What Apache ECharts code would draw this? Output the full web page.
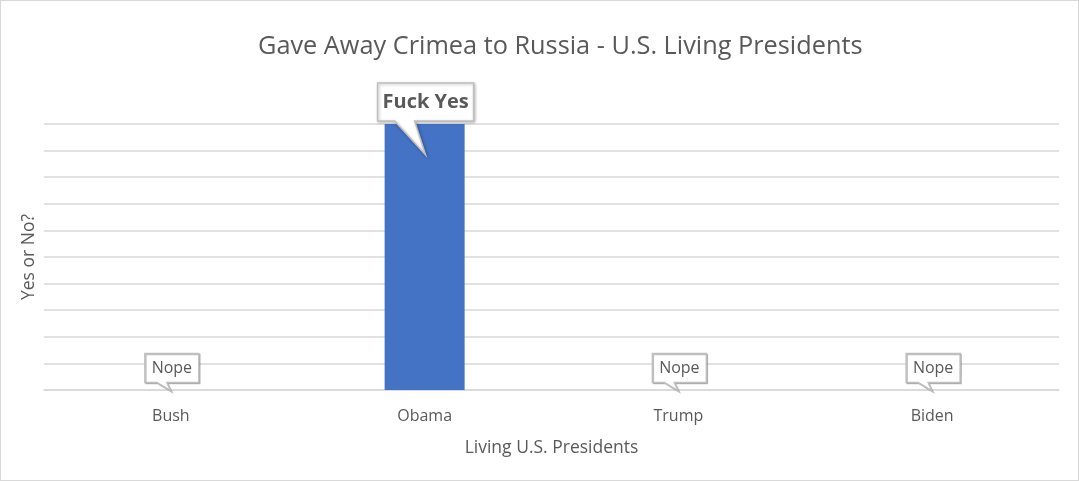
<!DOCTYPE html>
<html>
<head>
    <meta charset="UTF-8">
    <title>Gave Away Crimea to Russia</title>
    <script src="https://cdn.jsdelivr.net/npm/echarts@6/dist/echarts.min.js"></script>
    <style>
        html, body { margin: 0; padding: 0; background: #fff; }
        #main { width: 1079px; height: 481px; box-sizing: border-box; border: 1px solid #d9d9d9; }
    </style>
</head>
<body>
<div id="main"></div>
<script type="text/javascript">
    // data
    var presidents = ['Bush', 'Obama', 'Trump', 'Biden'];
    var gaveAway = [0, 10, 0, 0];
    var answers = ['Nope', 'Fuck Yes', 'Nope', 'Nope'];

    var textColor = '#595959';
    var font = '"Open Sans", sans-serif';

    var chartDom = document.getElementById('main');
    var myChart = echarts.init(chartDom);

    // callout labels, anchored to the bar top through the axis scales
    function renderCallout(params, api) {
        var idx = api.value(0);
        var val = api.value(1);
        var txt = answers[params.dataIndex];
        var p = api.coord([idx, val]);
        var big = val > 0;
        var w, h, cx, cy, tip, p1, p2, fs, fw;
        if (big) {
            w = 96; h = 38; cx = p[0] + 1; cy = p[1] - 22;
            p1 = p[0] - 30; p2 = p[0] - 10;
            tip = [p[0] + 1, p[1] + 31];
            fs = 20; fw = 'bold';
        } else {
            w = 54; h = 29; cx = p[0] + 1; cy = p[1] - 22;
            p1 = p[0] - 14; p2 = p[0] - 4;
            tip = [p[0], p[1] + 1];
            fs = 16; fw = 'normal';
        }
        var l = cx - w / 2, r = cx + w / 2, t = cy - h / 2, b = cy + h / 2;
        return {
            type: 'group',
            children: [{
                type: 'polygon',
                shape: { points: [[l, t], [r, t], [r, b], [p2, b], tip, [p1, b], [l, b]] },
                style: {
                    fill: '#fff', stroke: '#bfbfbf', lineWidth: 1.5,
                    shadowBlur: big ? 3 : 0, shadowColor: 'rgba(0,0,0,0.25)', shadowOffsetX: 1, shadowOffsetY: 1
                }
            }, {
                type: 'text',
                style: {
                    x: cx, y: cy, text: txt, align: 'center', verticalAlign: 'middle',
                    fill: textColor, font: fw + ' ' + fs + 'px ' + font
                }
            }]
        };
    }

    var calloutData = presidents.map(function (name, i) {
        return [i, gaveAway[i]];
    });

    var option = {
        animation: false,
        title: {
            text: 'Gave Away Crimea to Russia - U.S. Living Presidents',
            left: 252,
            top: 28,
            textStyle: { color: textColor, fontFamily: font, fontSize: 25.3, fontWeight: 'normal' }
        },
        grid: { left: 43, right: 19, top: 123, bottom: 90 },
        xAxis: {
            type: 'category',
            data: presidents,
            name: 'Living U.S. Presidents',
            nameLocation: 'middle',
            nameGap: 49,
            nameTextStyle: { color: textColor, fontFamily: font, fontSize: 17.5 },
            axisLine: { lineStyle: { color: '#d9d9d9', width: 1.5 } },
            axisTick: { show: false },
            axisLabel: { color: textColor, fontFamily: font, fontSize: 16, margin: 18 }
        },
        yAxis: {
            type: 'value',
            min: 0,
            max: 10,
            interval: 1,
            name: 'Yes or No?',
            nameLocation: 'middle',
            nameGap: 6,
            nameTextStyle: { color: textColor, fontFamily: font, fontSize: 17.5 },
            axisLabel: { show: false },
            axisLine: { show: false },
            axisTick: { show: false },
            splitLine: { lineStyle: { color: '#d9d9d9', width: 1.5 } }
        },
        series: [{
            type: 'bar',
            data: gaveAway,
            barWidth: 80,
            itemStyle: { color: '#4472c4' }
        }, {
            type: 'custom',
            data: calloutData,
            renderItem: renderCallout,
            z: 10
        }]
    };

    myChart.setOption(option);
</script>
</body>
</html>
